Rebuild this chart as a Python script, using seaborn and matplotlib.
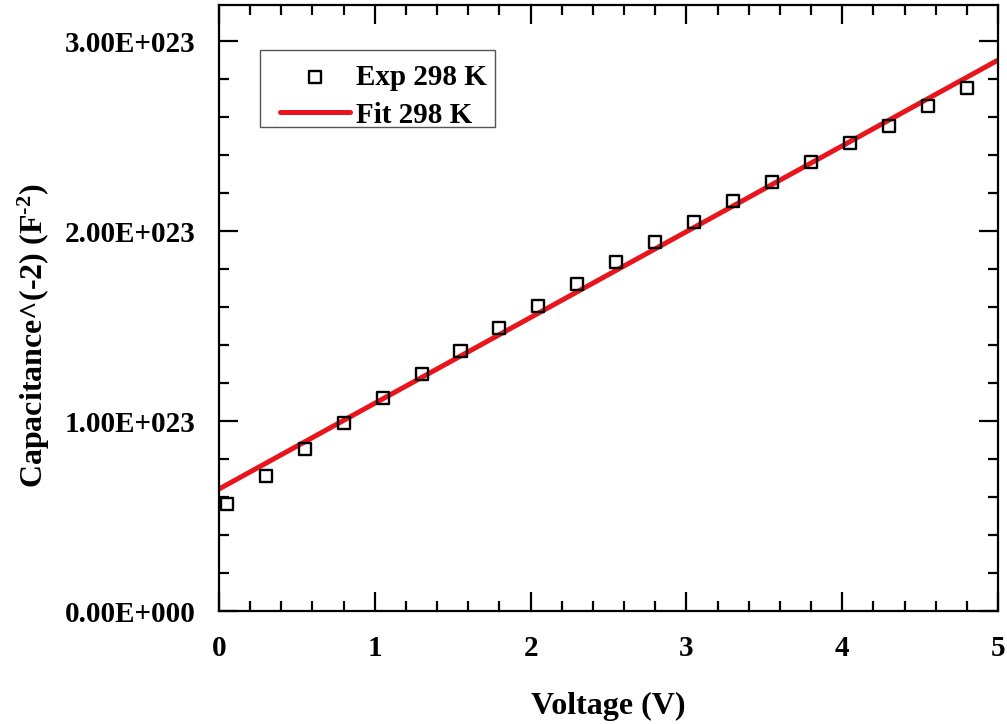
import numpy as np
import pandas as pd
import matplotlib
matplotlib.use("Agg")
import matplotlib.pyplot as plt
from matplotlib.patches import Rectangle
from matplotlib.ticker import MultipleLocator, FixedLocator, FixedFormatter
import seaborn as sns

# Measured Mott-Schottky data at 298 K
voltage = [0.05, 0.30, 0.55, 0.80, 1.05, 1.30, 1.55, 1.80, 2.05, 2.30,
           2.55, 2.80, 3.05, 3.30, 3.55, 3.80, 4.05, 4.30, 4.55, 4.80]
inv_cap_sq = [0.563e23, 0.712e23, 0.853e23, 0.988e23, 1.120e23, 1.247e23,
              1.368e23, 1.489e23, 1.605e23, 1.721e23, 1.837e23, 1.942e23,
              2.047e23, 2.158e23, 2.258e23, 2.363e23, 2.463e23, 2.554e23,
              2.658e23, 2.751e23]

# Linear fit parameters
fit_intercept = 0.642e23
fit_slope = 0.4516e23
fit_voltage = [0.0, 5.0]

y_tick_values = [0.0, 1.0e23, 2.0e23, 3.0e23]
y_tick_labels = ["0.00E+000", "1.00E+023", "2.00E+023", "3.00E+023"]
x_tick_values = [0, 1, 2, 3, 4, 5]
x_tick_labels = ["0", "1", "2", "3", "4", "5"]

sns.set_theme(style="ticks")
plt.rcParams["font.family"] = ["Liberation Serif", "DejaVu Serif"]
plt.rcParams["font.weight"] = "bold"
plt.rcParams["text.color"] = "black"
plt.rcParams["axes.labelcolor"] = "black"
plt.rcParams["xtick.color"] = "black"
plt.rcParams["ytick.color"] = "black"
plt.rcParams["mathtext.fontset"] = "custom"
plt.rcParams["mathtext.rm"] = "Liberation Serif:bold"
plt.rcParams["mathtext.bf"] = "Liberation Serif:bold"
plt.rcParams["mathtext.it"] = "Liberation Serif:bold"

df_exp = pd.DataFrame({"V": voltage, "C": inv_cap_sq})
df_fit = pd.DataFrame({"V": fit_voltage,
                       "C": [fit_intercept + fit_slope * v for v in fit_voltage]})

fig = plt.figure(figsize=(10.07, 7.24), dpi=100)
ax = fig.add_axes([219 / 1007, 1 - 611 / 724, (998 - 219) / 1007, (611 - 5) / 724])

sns.lineplot(data=df_fit, x="V", y="C", ax=ax, color="#e8161c", lw=3.6,
             label="Fit 298 K", zorder=2)
sns.scatterplot(data=df_exp, x="V", y="C", ax=ax, marker="s", s=75,
                facecolor="none", edgecolor="black", linewidth=1.7,
                label="Exp 298 K", zorder=3)

ax.set_xlim(0, 5)
ax.set_ylim(0, 3.19e23)

ax.xaxis.set_major_locator(FixedLocator(x_tick_values))
ax.xaxis.set_major_formatter(FixedFormatter(x_tick_labels))
ax.xaxis.set_minor_locator(MultipleLocator(0.2))
ax.yaxis.set_major_locator(FixedLocator(y_tick_values))
ax.yaxis.set_major_formatter(FixedFormatter(y_tick_labels))
ax.yaxis.set_minor_locator(MultipleLocator(0.2e23))

ax.tick_params(which="both", direction="in", top=True, right=True,
               width=1.6, colors="black", labelsize=21)
ax.tick_params(which="major", length=14)
ax.tick_params(which="minor", length=7.5)
ax.tick_params(axis="x", which="major", pad=17)
ax.tick_params(axis="y", which="major", pad=17)
for lbl in ax.get_xticklabels() + ax.get_yticklabels():
    lbl.set_fontweight("bold")

for sp in ax.spines.values():
    sp.set_linewidth(1.6)
    sp.set_color("black")

ax.set_xlabel("Voltage (V)", fontsize=23, fontweight="bold", labelpad=22)
ax.set_ylabel(r"Capacitance^(-2) (F$^{\text{-2}}$)", fontsize=23,
              fontweight="bold", labelpad=9)
ax.yaxis.label.set_y(0.455)

# Legend entries without their own frame; a plain thin box is drawn around them
handles, labels = ax.get_legend_handles_labels()
order = [labels.index("Exp 298 K"), labels.index("Fit 298 K")]
leg = ax.legend([handles[i] for i in order], [labels[i] for i in order],
                loc="upper left", bbox_to_anchor=(0.0783, 0.9026),
                frameon=False,
                prop={"family": "Liberation Serif", "weight": "bold", "size": 21},
                handlelength=2.4, handletextpad=0.2, borderpad=0.0,
                labelspacing=0.36, borderaxespad=0.0)
for t in leg.get_texts():
    t.set_color("black")
ax.add_patch(Rectangle((0.0526, 0.7987), 0.3017, 0.127, transform=ax.transAxes,
                       fill=False, edgecolor="#555555", linewidth=1.0, zorder=4))

fig.savefig("out.png", dpi=100, facecolor="white")
